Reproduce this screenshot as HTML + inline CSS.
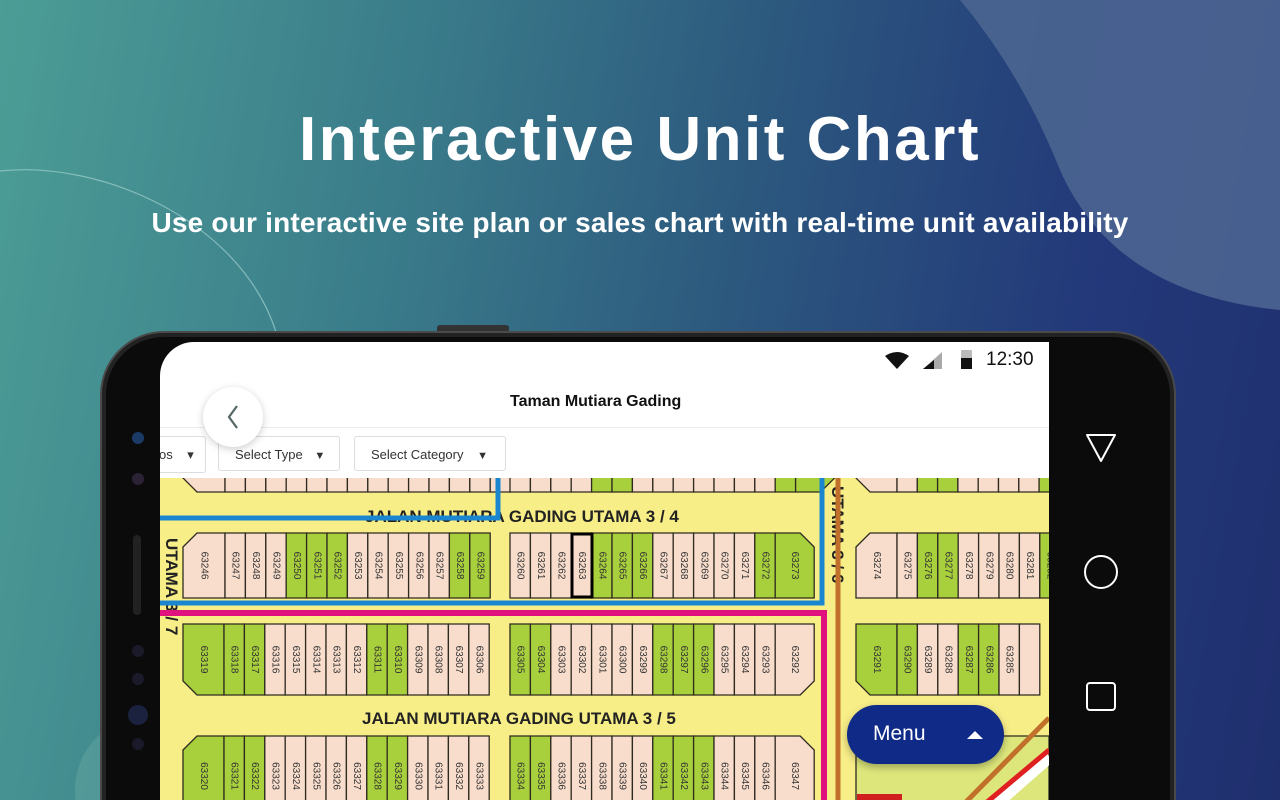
<!DOCTYPE html>
<html><head><meta charset="utf-8">
<style>
html,body{margin:0;padding:0;width:1280px;height:800px;overflow:hidden}
body{position:relative;background:linear-gradient(100deg,#4c9d96 0%,#3a7c8a 30%,#2c587e 55%,#23397a 80%,#1f2f6e 100%);font-family:"Liberation Sans",sans-serif}
.t1{position:absolute;left:0;width:1280px;top:104px;text-align:center;color:#fff;font-size:62px;font-weight:bold;letter-spacing:2.5px}
.t2{position:absolute;left:0;width:1280px;top:207px;text-align:center;color:#fff;font-size:28px;font-weight:bold;letter-spacing:0.2px}
</style></head><body>
<svg width="1280" height="800" style="position:absolute;left:0;top:0">
<path d="M960 0 C1010 60 1040 120 1060 170 C1100 260 1180 300 1280 310 L1280 0 Z" fill="#4d6793" opacity="0.85"/>
<path d="M0 171 C100 160 240 220 276 332" fill="none" stroke="#9fd0cc" stroke-width="1.2" opacity="0.7"/>
<circle cx="150" cy="790" r="75" fill="#6fb1aa" opacity="0.35"/>
</svg>
<div class="t1">Interactive Unit Chart</div>
<div class="t2">Use our interactive site plan or sales chart with real-time unit availability</div>

<!-- phone -->
<div style="position:absolute;left:437px;top:325px;width:72px;height:10px;background:#333;border-radius:3px"></div>
<div style="position:absolute;left:100px;top:331px;width:1076px;height:469px;overflow:hidden">
<div style="position:absolute;left:0;top:0;width:1076px;height:560px;box-sizing:border-box;background:#0b0b0b;border-radius:64px;border:2px solid #4a4a4a;box-shadow:inset 0 0 0 4px #222"></div>
</div>
<div style="position:absolute;left:132px;top:432px;width:12px;height:12px;border-radius:50%;background:#1b3a66"></div>
<div style="position:absolute;left:132px;top:473px;width:12px;height:12px;border-radius:50%;background:#2c2236"></div>
<div style="position:absolute;left:133px;top:535px;width:8px;height:80px;border-radius:4px;background:#222"></div>
<div style="position:absolute;left:132px;top:645px;width:12px;height:12px;border-radius:50%;background:#1a1a2a"></div>
<div style="position:absolute;left:132px;top:673px;width:12px;height:12px;border-radius:50%;background:#1a1a2a"></div>
<div style="position:absolute;left:128px;top:705px;width:20px;height:20px;border-radius:50%;background:#1a2240"></div>
<div style="position:absolute;left:132px;top:738px;width:12px;height:12px;border-radius:50%;background:#1a1a2a"></div>
<svg width="1280" height="800" style="position:absolute;left:0;top:0">
<path d="M1087 435 L1115 435 L1101 461 Z" fill="none" stroke="#fff" stroke-width="2" stroke-linejoin="round"/>
<circle cx="1101" cy="572" r="16" fill="none" stroke="#fff" stroke-width="2"/>
<rect x="1087" y="683" width="28" height="27" rx="3" fill="none" stroke="#fff" stroke-width="2"/>
</svg>

<!-- screen -->
<div style="position:absolute;left:160px;top:342px;width:889px;height:458px;background:#fff;border-top-left-radius:34px;overflow:hidden">
 <svg id="map" width="889" height="322" style="position:absolute;left:0;top:136px"></svg>
 <div style="position:absolute;left:0;top:85px;width:889px;height:1px;background:#ececec"></div>
 <div style="position:absolute;left:350px;top:51px;font-size:16px;font-weight:bold;color:#111">Taman Mutiara Gading</div>
 <div style="position:absolute;left:-20px;top:94px;width:64px;height:35px;border:1px solid #ddd;border-radius:3px;font-size:13px;color:#333;line-height:35px">&nbsp;&nbsp;&nbsp;&nbsp;&nbsp;os&nbsp;&nbsp;&nbsp;&nbsp;▾</div>
 <div style="position:absolute;left:58px;top:94px;width:122px;height:35px;border:1px solid #ddd;border-radius:3px;font-size:13px;color:#333;line-height:35px;padding-left:16px;box-sizing:border-box">Select Type <span style="margin-left:8px;font-size:11px">▼</span></div>
 <div style="position:absolute;left:194px;top:94px;width:152px;height:35px;border:1px solid #ddd;border-radius:3px;font-size:13px;color:#333;line-height:35px;padding-left:16px;box-sizing:border-box">Select Category <span style="margin-left:10px;font-size:11px">▼</span></div>
 <div style="position:absolute;left:826px;top:7px;font-size:19px;color:#111">12:30</div>
 <svg width="100" height="30" style="position:absolute;left:722px;top:5px">
  <path d="M3 9 Q15 1 27 9 L15 22 Z" fill="#111"/>
  <path d="M41 22 L60 22 L60 5 Z" fill="#aaa"/><path d="M41 22 L52 22 L52 13 Z" fill="#111"/>
  <rect x="79" y="3" width="11" height="19" rx="1" fill="#bbb"/><rect x="79" y="11" width="11" height="11" fill="#111"/>
 </svg>
 <div style="position:absolute;left:43px;top:45px;width:60px;height:60px;border-radius:50%;background:#fff;box-shadow:0 2px 8px rgba(0,0,0,0.2)"></div>
 <svg width="20" height="30" style="position:absolute;left:64px;top:60px"><path d="M13 4 L5 15 L13 26" fill="none" stroke="#566" stroke-width="2.2"/></svg>
 <div style="position:absolute;left:687px;top:363px;width:157px;height:59px;background:#102a88;border-radius:30px;box-shadow:0 3px 8px rgba(0,0,0,0.3)"></div>
 <div style="position:absolute;left:713px;top:380px;font-size:21px;color:#fff">Menu</div>
 <svg width="20" height="12" style="position:absolute;left:806px;top:387px"><path d="M1 10 L9 2 L17 10 Z" fill="#fff"/></svg>
</div>
<script>
var s=document.getElementById('map'),h='';
var Y='#f8ee88',P='#f9ddcc',G='#a8d03c',B='#2e2a20';
h+='<rect width="889" height="322" fill="'+Y+'"/>';
function lot(x,y,w,hh,c,num,ch){
 var k=14,pts;
 var x2=x+w,y2=y+hh;
 if(ch=='tl')pts=[[x,y+k],[x+k,y],[x2,y],[x2,y2],[x,y2]];
 else if(ch=='tr')pts=[[x,y],[x2-k,y],[x2,y+k],[x2,y2],[x,y2]];
 else if(ch=='bl')pts=[[x,y],[x2,y],[x2,y2],[x+k,y2],[x,y2-k]];
 else if(ch=='br')pts=[[x,y],[x2,y],[x2,y2-k],[x2-k,y2],[x,y2]];
 else pts=[[x,y],[x2,y],[x2,y2],[x,y2]];
 h+='<polygon points="'+pts.join(' ')+'" fill="'+c+'" stroke="'+B+'" stroke-width="1.3"/>';
 if(num){var cx=x+w/2,cy=y+hh/2;h+='<text x="'+cx+'" y="'+cy+'" transform="rotate(90 '+cx+' '+cy+')" text-anchor="middle" dominant-baseline="central" font-size="10" fill="#333" font-family="Liberation Sans">'+num+'</text>';}
}
function group(x0,y,hh,nums,greens,wideFirst,wideLast,chF,chL){
 var x=x0;
 for(var i=0;i<nums.length;i++){
  var w=20.4;if(i==0&&wideFirst)w=wideFirst;if(i==nums.length-1&&wideLast)w=wideLast;
  var c=greens.indexOf(nums[i])>=0?G:P;
  lot(x,y,w,hh,c,nums[i],i==0?chF:(i==nums.length-1?chL:''));x+=w;
 }
}
function seq(a,b){var r=[];if(a<=b)for(var i=a;i<=b;i++)r.push(i);else for(var i=a;i>=b;i--)r.push(i);return r;}
(function(){var y=-40,hh=54;
 var g1=[];for(var i=0;i<15;i++)g1.push('');
 group(23,y,hh,g1,[],42,0,'bl','');
 var x=350;for(var i=0;i<15;i++){var w=i==14?39:20.4;lot(x,y,w,hh,(i==4||i==5||i>=13)?G:P,'',i==14?'br':'');x+=w;}
 x=696;for(var i=0;i<10;i++){var w=i==0?41:20.3;lot(x,y,w,hh,(i==2||i==3||i==8)?G:P,'',i==0?'bl':'');x+=w;}
})();
group(23,55,65,seq(63246,63259),[63250,63251,63252,63258,63259],42,0,'tl','');
group(350,55,65,seq(63260,63273),[63264,63265,63266,63272,63273],0,39,'','tr');
group(696,55,65,seq(63274,63282),[63276,63277,63282],41,0,'tl','');
group(23,146,71,seq(63319,63306),[63319,63318,63317,63311,63310],41,0,'bl','');
group(350,146,71,seq(63305,63292),[63305,63304,63298,63297,63296],0,39,'','br');
group(696,146,71,seq(63291,63285).concat(['']),[63291,63290,63287,63286],41,0,'bl','');
group(23,258,80,seq(63320,63333),[63320,63321,63322,63328,63329],41,0,'tl','');
group(350,258,80,seq(63334,63347),[63334,63335,63341,63342,63343],0,39,'','tr');
h+='<polygon points="696,258 889,258 889,340 696,340" fill="#dce67a" stroke="'+B+'" stroke-width="1.3"/>';
h+='<line x1="800" y1="330" x2="889" y2="240" stroke="#c0702a" stroke-width="5"/>';
h+='<line x1="830" y1="330" x2="889" y2="278" stroke="#fff" stroke-width="14"/>';
h+='<line x1="820" y1="330" x2="889" y2="272" stroke="#e02020" stroke-width="5"/>';
h+='<rect x="697" y="316" width="45" height="8" fill="#d02020"/>';
h+='<rect x="412" y="56" width="20" height="63" fill="none" stroke="#000" stroke-width="3"/>';
h+='<text x="205" y="44" font-size="17" font-weight="bold" fill="#222" font-family="Liberation Sans">JALAN MUTIARA GADING UTAMA 3 / 4</text>';
h+='<text x="202" y="246" font-size="17" font-weight="bold" fill="#222" font-family="Liberation Sans">JALAN MUTIARA GADING UTAMA 3 / 5</text>';
h+='<text x="6" y="60" transform="rotate(90 6 60)" font-size="17" font-weight="bold" fill="#222" font-family="Liberation Sans">UTAMA 3 / 7</text>';
h+='<text x="672" y="8" transform="rotate(90 672 8)" font-size="17" font-weight="bold" fill="#222" font-family="Liberation Sans">UTAMA 3 / 6</text>';
h+='<path d="M0 40 L338 40 L338 0" fill="none" stroke="#1b86d0" stroke-width="5"/>';
h+='<path d="M0 125 L662 125 L662 0" fill="none" stroke="#1b86d0" stroke-width="5"/>';
h+='<path d="M0 135 L664 135 L664 330" fill="none" stroke="#e0127e" stroke-width="6"/>';
h+='<line x1="678" y1="0" x2="678" y2="330" stroke="#c0702a" stroke-width="5"/>';
s.innerHTML=h;
</script>
</body></html>
